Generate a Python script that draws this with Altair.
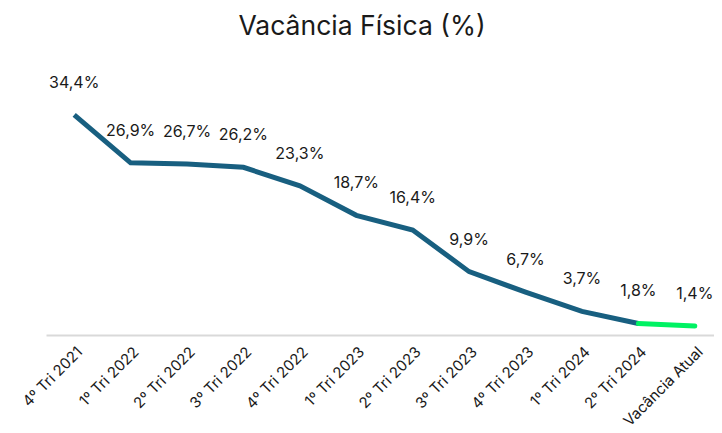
import altair as alt
import pandas as pd

categories = ["4º Tri 2021", "1º Tri 2022", "2º Tri 2022", "3º Tri 2022", "4º Tri 2022",
              "1º Tri 2023", "2º Tri 2023", "3º Tri 2023", "4º Tri 2023", "1º Tri 2024",
              "2º Tri 2024", "Vacância Atual"]
values = [34.4, 26.9, 26.7, 26.2, 23.3, 18.7, 16.4, 9.9, 6.7, 3.7, 1.8, 1.4]
labels = ["34,4%", "26,9%", "26,7%", "26,2%", "23,3%", "18,7%", "16,4%", "9,9%",
          "6,7%", "3,7%", "1,8%", "1,4%"]

df = pd.DataFrame({"cat": categories, "v": values, "lab": labels, "ord": range(len(values))})
hist = df.iloc[:-1].copy()
cur = df.iloc[-2:].copy()

FONT = "Inter"

x = alt.X("cat:N", sort=categories, title=None, scale=alt.Scale(range=[0, 677]),
          axis=alt.Axis(labelAngle=-45, labelFontSize=15, labelColor="#1a1a1a", labelFont=FONT,
                        ticks=False, domainColor="#d9d9d9", domainWidth=2, labelPadding=9,
                        grid=False))
y = alt.Y("v:Q", scale=alt.Scale(domain=[0, 40]), axis=None)

blue = alt.Chart(hist).mark_line(color="#185f80", strokeWidth=5).encode(x=x, y=y, order="ord:Q")
green = alt.Chart(cur).mark_line(color="#00f263", strokeWidth=5, strokeCap="round").encode(x=x, y=y, order="ord:Q")
text = alt.Chart(df).mark_text(dy=-32, fontSize=16, font=FONT, color="#1a1a1a").encode(x=x, y=y, text="lab:N")

chart = (blue + green + text).properties(
    width=668, height=256,
    autosize=alt.AutoSizeParams(type="none"),
    padding={"left": 38, "right": 0, "top": 71, "bottom": 90},
    title=alt.TitleParams("Vacância Física (%)", fontSize=26.5, font=FONT, fontWeight="normal",
                          color="#1a1a1a", offset=34, dx=-18),
).configure_view(stroke=None)

chart.save("out.html", embed_options={"renderer": "svg", "actions": False})
